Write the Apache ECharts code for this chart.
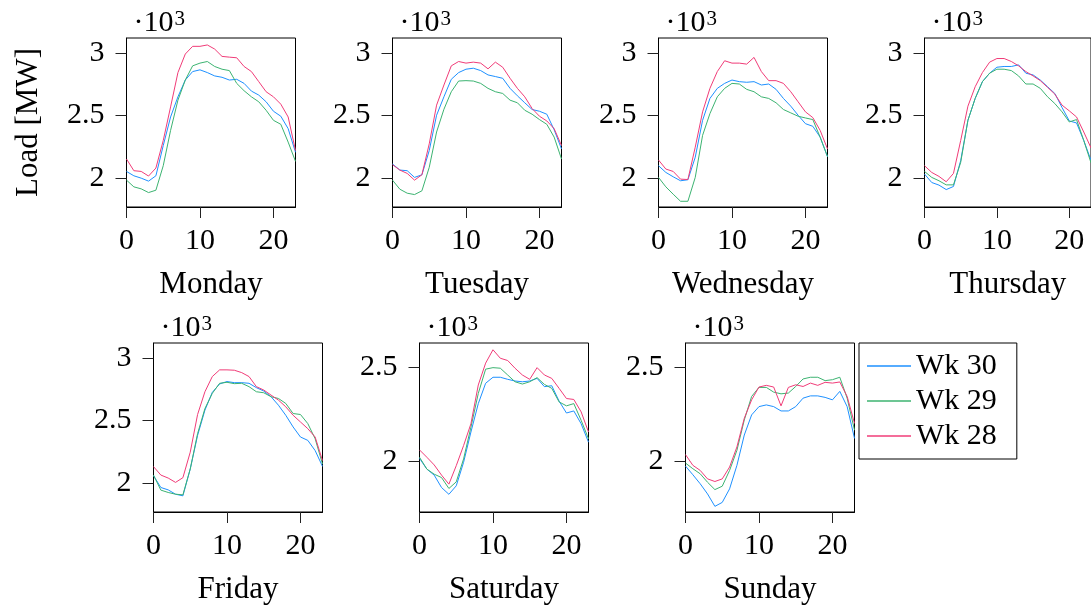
<!DOCTYPE html>
<html>
<head>
<meta charset="utf-8">
<script src="https://cdn.jsdelivr.net/npm/echarts@6/dist/echarts.min.js"></script>
<style>
  html, body { margin: 0; padding: 0; background: #fff; }
  #chart { width: 1091px; height: 607px; }
</style>
</head>
<body>
<div id="chart"></div>
<script>
// Hourly electrical load (MW) for three consecutive weeks, one panel per weekday.
const hours = [0, 1, 2, 3, 4, 5, 6, 7, 8, 9, 10, 11, 12, 13, 14, 15, 16, 17, 18, 19, 20, 21, 22, 23];
const days = ['Monday', 'Tuesday', 'Wednesday', 'Thursday', 'Friday', 'Saturday', 'Sunday'];
const weeks = ['Wk 30', 'Wk 29', 'Wk 28'];
const xTicks = [0, 10, 20];
const weekdayTicks = [2000, 2500, 3000];
const weekendTicks = [2000, 2500];

const monWk30 = [2051, 2016, 1997, 1973, 2016, 2259, 2489, 2651, 2786, 2854, 2868, 2846, 2819, 2808, 2786, 2792, 2759, 2697, 2665, 2611, 2535, 2495, 2395, 2205];
const monWk29 = [1981, 1927, 1911, 1881, 1900, 2097, 2381, 2624, 2786, 2900, 2922, 2935, 2895, 2873, 2862, 2759, 2700, 2651, 2611, 2543, 2462, 2430, 2287, 2132];
const monWk28 = [2151, 2057, 2051, 2014, 2078, 2300, 2570, 2846, 2995, 3057, 3057, 3068, 3035, 2976, 2970, 2965, 2895, 2854, 2773, 2692, 2651, 2592, 2489, 2219];

const tueWk30 = [2111, 2062, 2057, 2003, 2024, 2219, 2503, 2651, 2792, 2846, 2873, 2881, 2862, 2827, 2814, 2800, 2719, 2659, 2603, 2549, 2535, 2511, 2386, 2232];
const tueWk29 = [1981, 1908, 1876, 1865, 1895, 2084, 2368, 2551, 2692, 2778, 2781, 2778, 2759, 2719, 2692, 2678, 2624, 2603, 2543, 2511, 2468, 2430, 2327, 2151];
const tueWk28 = [2105, 2062, 2035, 1981, 2024, 2273, 2584, 2746, 2900, 2935, 2922, 2930, 2922, 2876, 2930, 2889, 2800, 2719, 2651, 2557, 2495, 2457, 2395, 2259];

const wedWk30 = [2097, 2043, 2008, 1976, 1984, 2165, 2462, 2638, 2719, 2759, 2786, 2773, 2768, 2773, 2746, 2754, 2711, 2638, 2576, 2503, 2435, 2414, 2327, 2170];
const wedWk29 = [2003, 1927, 1868, 1811, 1811, 2003, 2341, 2516, 2651, 2719, 2759, 2754, 2711, 2692, 2651, 2638, 2603, 2549, 2522, 2495, 2481, 2468, 2327, 2170];
const wedWk28 = [2143, 2070, 2051, 1989, 1986, 2246, 2530, 2719, 2854, 2941, 2922, 2922, 2914, 2968, 2854, 2781, 2781, 2759, 2692, 2611, 2530, 2484, 2381, 2232];

const thuWk30 = [2030, 1962, 1941, 1905, 1930, 2138, 2462, 2638, 2773, 2841, 2889, 2895, 2895, 2908, 2841, 2827, 2786, 2732, 2678, 2565, 2457, 2441, 2300, 2140];
const thuWk29 = [2051, 2003, 1976, 1943, 1943, 2124, 2462, 2638, 2773, 2841, 2873, 2873, 2862, 2819, 2754, 2754, 2719, 2651, 2597, 2530, 2449, 2468, 2300, 2120];
const thuWk28 = [2097, 2043, 2011, 1968, 2035, 2300, 2576, 2732, 2846, 2930, 2959, 2959, 2935, 2900, 2854, 2819, 2781, 2727, 2673, 2584, 2538, 2489, 2368, 2240];

const friWk30 = [2057, 1962, 1943, 1908, 1895, 2111, 2381, 2584, 2727, 2795, 2814, 2805, 2805, 2800, 2765, 2738, 2692, 2624, 2543, 2449, 2368, 2341, 2259, 2132];
const friWk29 = [2062, 1941, 1922, 1908, 1903, 2111, 2395, 2597, 2719, 2800, 2808, 2797, 2800, 2773, 2732, 2724, 2692, 2678, 2638, 2557, 2549, 2476, 2354, 2151];
const friWk28 = [2130, 2062, 2038, 2003, 2041, 2246, 2549, 2732, 2854, 2908, 2908, 2905, 2886, 2854, 2773, 2746, 2705, 2665, 2611, 2543, 2489, 2435, 2368, 2178];

const satWk30 = [2014, 1957, 1925, 1859, 1823, 1868, 1993, 2154, 2305, 2413, 2445, 2445, 2434, 2425, 2421, 2425, 2439, 2395, 2400, 2318, 2255, 2266, 2198, 2100];
const satWk29 = [2020, 1957, 1930, 1912, 1854, 1889, 2011, 2180, 2359, 2488, 2496, 2493, 2457, 2421, 2409, 2421, 2443, 2407, 2386, 2314, 2293, 2305, 2216, 2118];
const satWk28 = [2059, 2020, 1979, 1925, 1877, 1975, 2082, 2198, 2404, 2520, 2591, 2546, 2534, 2493, 2457, 2434, 2496, 2457, 2439, 2386, 2332, 2327, 2261, 2154];

const sunWk30 = [1973, 1927, 1879, 1825, 1759, 1780, 1852, 1977, 2138, 2245, 2289, 2298, 2289, 2266, 2266, 2289, 2334, 2346, 2346, 2338, 2325, 2370, 2289, 2120];
const sunWk29 = [1989, 1959, 1932, 1887, 1848, 1866, 1950, 2057, 2218, 2343, 2391, 2391, 2366, 2357, 2361, 2396, 2436, 2445, 2445, 2427, 2432, 2445, 2334, 2164];
const sunWk28 = [2034, 1977, 1950, 1905, 1891, 1905, 1968, 2075, 2227, 2325, 2393, 2402, 2393, 2293, 2391, 2405, 2396, 2414, 2402, 2418, 2414, 2420, 2343, 2200];

const loadByDay = [
  [monWk30, monWk29, monWk28],
  [tueWk30, tueWk29, tueWk28],
  [wedWk30, wedWk29, wedWk28],
  [thuWk30, thuWk29, thuWk28],
  [friWk30, friWk29, friWk28],
  [satWk30, satWk29, satWk28],
  [sunWk30, sunWk29, sunWk28]
];

const FONT = 'Liberation Serif';
const colors = ['#1E90FF', '#3CB371', '#F03C78'];

// panel boxes: four on the top row, three on the bottom row
const panelW = 169, panelH = 169, step = 266;
const boxes = [
  { left: 126.5, top: 38 }, { left: 126.5 + step, top: 38 }, { left: 126.5 + 2 * step, top: 38 }, { left: 126.5 + 3 * step, top: 38 },
  { left: 153.5, top: 343 }, { left: 153.5 + step, top: 343 }, { left: 153.5 + 2 * step, top: 343 }
];

const grid = [], xAxis = [], yAxis = [], series = [];
days.forEach((day, i) => {
  const weekend = i >= 5;
  grid.push({
    left: boxes[i].left, top: boxes[i].top, width: panelW, height: panelH,
    show: true, borderColor: '#000', borderWidth: 1, backgroundColor: 'transparent'
  });
  xAxis.push({
    gridIndex: i, type: 'value', min: 0, max: 23, position: 'bottom',
    axisLine: { show: true, onZero: false, lineStyle: { color: '#000', width: 1 } },
    axisTick: { show: true, inside: false, length: 11, customValues: xTicks, lineStyle: { color: '#222', width: 1 } },
    axisLabel: { show: true, customValues: xTicks, fontSize: 30, fontFamily: FONT, color: '#000', margin: 19 },
    splitLine: { show: false },
    name: day, nameLocation: 'middle', nameGap: 62,
    nameTextStyle: { fontSize: 31, fontFamily: FONT, color: '#000' }
  });
  const yt = weekend ? weekendTicks : weekdayTicks;
  yAxis.push({
    gridIndex: i, type: 'value', position: 'left',
    min: weekend ? 1729 : 1765, max: weekend ? 2627 : 3124,
    axisLine: { show: true, onZero: false, lineStyle: { color: '#000', width: 1 } },
    axisTick: { show: true, inside: false, length: 11, customValues: yt, lineStyle: { color: '#222', width: 1 } },
    axisLabel: { customValues: yt, formatter: v => String(v / 1000), fontSize: 30, fontFamily: FONT, color: '#000', margin: 22 },
    splitLine: { show: false },
    name: '{m|·10}{s|3}', nameLocation: 'end', nameGap: 0,
    nameTextStyle: {
      align: 'left', verticalAlign: 'bottom', padding: [0, 0, 0, 7],
      rich: {
        m: { fontSize: 30, fontFamily: FONT, color: '#000' },
        s: { fontSize: 21, fontFamily: FONT, color: '#000', padding: [0, 0, 8, 1] }
      }
    }
  });
  weeks.forEach((wk, k) => {
    series.push({
      name: wk, type: 'line', xAxisIndex: i, yAxisIndex: i,
      data: hours.map((h, j) => [h, loadByDay[i][k][j]]),
      symbol: 'none', showSymbol: false, smooth: false,
      lineStyle: { color: colors[k], width: 1 },
      itemStyle: { color: colors[k] },
      emphasis: { disabled: true }
    });
  });
});

// shared y-axis title on the first panel
yAxis.push({
  gridIndex: 0, type: 'value', position: 'left', min: 1765, max: 3124,
  axisLine: { show: false }, axisTick: { show: false }, axisLabel: { show: false }, splitLine: { show: false },
  name: 'Load [MW]', nameLocation: 'middle', nameGap: 82,
  nameTextStyle: { fontSize: 31, fontFamily: FONT, color: '#000' }
});

const chart = echarts.init(document.getElementById('chart'), null, { renderer: 'canvas' });
chart.setOption({
  animation: false,
  backgroundColor: '#fff',
  color: colors,
  grid, xAxis, yAxis, series,
  legend: {
    data: weeks, orient: 'vertical', left: 859, top: 343,
    borderColor: '#000', borderWidth: 1, padding: [8, 20, 8, 8],
    icon: 'rect', itemWidth: 44, itemHeight: 1.3, itemGap: 5,
    textStyle: { fontSize: 30, fontFamily: FONT, color: '#000', lineHeight: 30 }
  }
});
</script>
</body>
</html>
